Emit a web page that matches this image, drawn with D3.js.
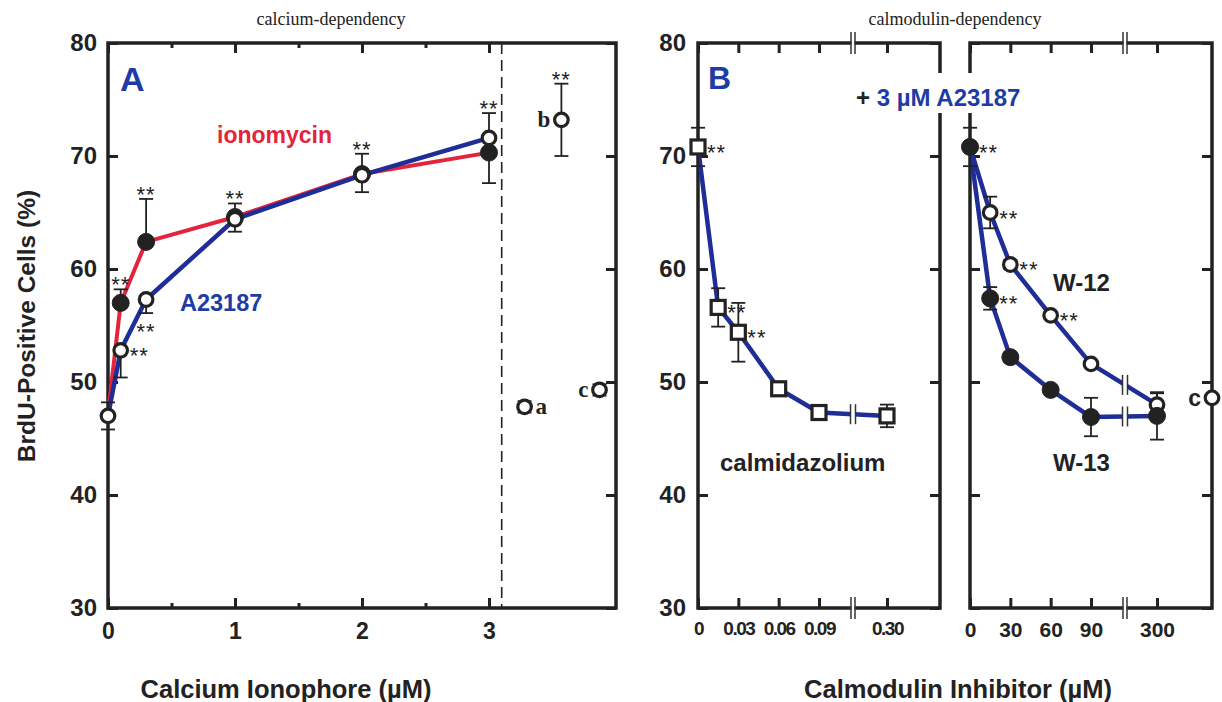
<!DOCTYPE html>
<html>
<head>
<meta charset="utf-8">
<script src="https://cdn.jsdelivr.net/npm/d3@7"></script>
<style>
  body { margin: 0; background: #fff; }
  text { font-family: "Liberation Sans", Arial, sans-serif; }
</style>
</head>
<body>
<div id="chart"></div>
<script>
// ---- Panel A: calcium ionophores ----
const ionoX = [0, 0.1, 0.3, 1, 2, 3];
const ionoY = [47.2, 57.0, 62.4, 64.6, 68.4, 70.3];
const ionoUp = [0, 1.2, 3.8, 1.2, 1.8, 0];
const ionoDown = [0, 0, 0, 0, 1.6, 2.7];
const ionoStars = ["", "up", "up", "up", "up", ""];

const a23X = [0, 0.1, 0.3, 1, 2, 3];
const a23Y = [47.0, 52.8, 57.3, 64.4, 68.3, 71.6];
const a23Up = [1.2, 0, 0, 0, 0, 2.2];
const a23Down = [1.2, 2.4, 1.2, 1.1, 0, 0];
const a23Stars = ["", "right", "down", "", "", "up"];

// control points a, b, c
const ctrlNames = ["a", "b", "c"];
const ctrlX = [3.28, 3.57, 3.87];
const ctrlY = [47.8, 73.2, 49.3];
const ctrlErr = [0.5, 3.2, 0.5];
const ctrlStars = ["", "up", ""];

const ticksA = [0, 1, 2, 3];
const minorA = [0.5, 1.5, 2.5];

// ---- Panel B: calmidazolium ----
const calmX = [0, 0.015, 0.03, 0.06, 0.09, 0.30];
const calmY = [70.8, 56.6, 54.4, 49.4, 47.3, 47.0];
const calmErr = [1.7, 1.7, 2.6, 0.3, 0.3, 1.0];
const calmStars = ["right", "right", "right", "", "", ""];
const ticksB = [0, 0.03, 0.06, 0.09, 0.30];
const tickLabelsB = ["0", "0.03", "0.06", "0.09", "0.30"];

// ---- Panel C: W-12 / W-13 ----
const wX = [0, 15, 30, 60, 90, 300];
const w12Y = [70.8, 65.0, 60.4, 55.9, 51.6, 48.0];
const w12Err = [0, 1.4, 0.4, 0.3, 0.3, 1.0];
const w12Stars = ["", "right", "right", "right", "", ""];
const w13Y = [70.8, 57.4, 52.2, 49.3, 46.9, 47.0];
const w13Err = [1.7, 1.0, 0.4, 0.3, 1.7, 2.1];
const w13Stars = ["right", "right", "", "", "", ""];
const ctrlCX = 465, ctrlCY = 48.6;
const ticksC = [0, 30, 60, 90, 300];
const tickLabelsC = ["0", "30", "60", "90", "300"];

const yTicks = [30, 40, 50, 60, 70, 80];

const blue = "#1e2d97", red = "#e3243d", textBlue = "#1d3da5";

const svg = d3.select("#chart").append("svg")
  .attr("width", 1222)
  .attr("height", 702);

const y = d3.scaleLinear().domain([30, 80]).range([608, 43]);
const xA = d3.scaleLinear().domain([0, 4]).range([108, 616]);
// broken axes: the last stretch after the break is compressed
const xB = d3.scaleLinear().domain([0, 0.09, 0.2, 0.30, 0.46]).range([698, 819, 853, 887, 940]);
const xC = d3.scaleLinear().domain([0, 90, 200, 300, 465]).range([970, 1091, 1125, 1157, 1212]);

const y0 = y.range()[0], y1 = y.range()[1];

function styleAxis(sel, size) {
  sel.select(".domain").remove();
  sel.selectAll(".tick line").attr("stroke", "#222").attr("stroke-width", 3);
  sel.selectAll(".tick text")
    .attr("fill", "#222")
    .style("font-size", size + "px")
    .style("font-weight", "bold");
}

function frame(x, opts) {
  const g = svg.append("g");
  const left = x.range()[0], right = x.range()[x.range().length - 1];

  g.append("g").attr("transform", `translate(0,${y0})`)
    .call(d3.axisBottom(x).tickValues(opts.ticks).tickSizeInner(-10).tickSizeOuter(0)
      .tickPadding(opts.xPad).tickFormat((d, i) => opts.labels[i]))
    .call(s => styleAxis(s, opts.xSize))
    .call(s => s.selectAll(".tick text").style("letter-spacing", opts.xSpacing || "0px"));
  g.append("g").attr("transform", `translate(0,${y1})`)
    .call(d3.axisTop(x).tickValues(opts.ticks).tickSizeInner(-10).tickSizeOuter(0).tickFormat(""))
    .call(s => styleAxis(s, 10));
  if (opts.minor) {
    g.append("g").attr("transform", `translate(0,${y0})`)
      .call(d3.axisBottom(x).tickValues(opts.minor).tickSizeInner(-5).tickSizeOuter(0).tickFormat(""))
      .call(s => styleAxis(s, 10));
    g.append("g").attr("transform", `translate(0,${y1})`)
      .call(d3.axisTop(x).tickValues(opts.minor).tickSizeInner(-5).tickSizeOuter(0).tickFormat(""))
      .call(s => styleAxis(s, 10));
  }
  g.append("g").attr("transform", `translate(${left},0)`)
    .call(d3.axisLeft(y).tickValues(yTicks).tickSizeInner(-10).tickSizeOuter(0)
      .tickPadding(opts.yPad).tickFormat(opts.yLabels ? d3.format("d") : ""))
    .call(s => styleAxis(s, 24));
  g.append("g").attr("transform", `translate(${right},0)`)
    .call(d3.axisRight(y).tickValues(yTicks).tickSizeInner(-10).tickSizeOuter(0).tickFormat(""))
    .call(s => styleAxis(s, 10));

  g.append("rect")
    .attr("x", left).attr("y", y1)
    .attr("width", right - left).attr("height", y0 - y1)
    .attr("fill", "none").attr("stroke", "#222").attr("stroke-width", 3.5);

  if (opts.breakAt !== undefined) {
    [y0, y1].forEach(yy => breakMark(x(opts.breakAt), yy, 22, 3));
  }
  return g;
}

function breakMark(cx, cy, h, w) {
  svg.append("rect").attr("x", cx - w / 2).attr("y", cy - h / 2 + 3)
    .attr("width", w).attr("height", h - 6).attr("fill", "#fff");
  [-w / 2 - 0.5, w / 2 + 0.5].forEach(dx => {
    svg.append("line")
      .attr("x1", cx + dx).attr("x2", cx + dx)
      .attr("y1", cy - h / 2).attr("y2", cy + h / 2)
      .attr("stroke", "#333").attr("stroke-width", 1.5);
  });
}

// break on a data line between two points, at x value bx
function lineBreak(x, xs, ys, bx) {
  const i = xs.findIndex(v => v > bx);
  const px = x(bx);
  const t = (px - x(xs[i - 1])) / (x(xs[i]) - x(xs[i - 1]));
  const py = y(ys[i - 1]) + t * (y(ys[i]) - y(ys[i - 1]));
  breakMark(px, py, 20, 4);
}

function series(x, xs, ys, color, lw) {
  svg.append("path")
    .datum(d3.zip(xs, ys))
    .attr("d", d3.line().x(d => x(d[0])).y(d => y(d[1])))
    .attr("fill", "none").attr("stroke", color)
    .attr("stroke-width", lw).attr("stroke-linejoin", "round");
}

function errorBars(x, xs, ys, up, down) {
  const g = svg.append("g").attr("stroke", "#222").attr("stroke-width", 1.8);
  xs.forEach((xv, i) => {
    const cx = x(xv);
    const hi = ys[i] + up[i], lo = ys[i] - down[i];
    if (up[i] === 0 && down[i] === 0) return;
    g.append("line").attr("x1", cx).attr("x2", cx).attr("y1", y(hi)).attr("y2", y(lo));
    if (up[i] > 0) g.append("line").attr("x1", cx - 7).attr("x2", cx + 7).attr("y1", y(hi)).attr("y2", y(hi));
    if (down[i] > 0) g.append("line").attr("x1", cx - 7).attr("x2", cx + 7).attr("y1", y(lo)).attr("y2", y(lo));
  });
}

function markers(x, xs, ys, shape, filled) {
  const data = d3.zip(xs, ys);
  if (shape === "square") {
    svg.append("g").selectAll("rect").data(data).join("rect")
      .attr("x", d => x(d[0]) - 7).attr("y", d => y(d[1]) - 7)
      .attr("width", 14).attr("height", 14)
      .attr("fill", "#fff").attr("stroke", "#222").attr("stroke-width", 3.2);
  } else {
    svg.append("g").selectAll("circle").data(data).join("circle")
      .attr("cx", d => x(d[0])).attr("cy", d => y(d[1]))
      .attr("r", filled ? 8.5 : 6.8)
      .attr("fill", filled ? "#222" : "#fff")
      .attr("stroke", "#222").attr("stroke-width", filled ? 1 : 3.2);
  }
}

function stars(x, xs, ys, up, down, pos) {
  xs.forEach((xv, i) => {
    const p = pos[i];
    if (!p) return;
    let sx = x(xv), sy = y(ys[i]), anchor = "middle";
    if (p === "up") sy = y(ys[i] + up[i]) - 10;
    if (p === "down") sy = y(ys[i] - down[i]) + 13;
    if (p === "right") { sx += 9; anchor = "start"; }
    svg.append("text")
      .attr("x", sx).attr("y", sy + 13)
      .attr("text-anchor", anchor)
      .style("font-size", "22px").style("letter-spacing", "1px")
      .attr("fill", "#222")
      .text("**");
  });
}

// ---------- Panel A ----------
frame(xA, { ticks: ticksA, labels: ticksA.map(String), minor: minorA, xPad: 15, xSize: 23, yPad: 11, yLabels: true });

svg.append("line")
  .attr("x1", xA(3.1)).attr("x2", xA(3.1)).attr("y1", y1).attr("y2", y0)
  .attr("stroke", "#222").attr("stroke-width", 1.6).attr("stroke-dasharray", "11,6");

series(xA, ionoX, ionoY, red, 4);
series(xA, a23X, a23Y, blue, 4.5);
errorBars(xA, ionoX, ionoY, ionoUp, ionoDown);
errorBars(xA, a23X, a23Y, a23Up, a23Down);
errorBars(xA, ctrlX, ctrlY, ctrlErr, ctrlErr);
markers(xA, ionoX.slice(1), ionoY.slice(1), "circle", true);
markers(xA, a23X, a23Y, "circle", false);
markers(xA, ctrlX, ctrlY, "circle", false);
stars(xA, ionoX, ionoY, ionoUp, ionoDown, ionoStars);
stars(xA, a23X, a23Y, a23Up, a23Down, a23Stars);
stars(xA, ctrlX, ctrlY, ctrlErr, ctrlErr, ctrlStars);

ctrlNames.forEach((n, i) => {
  const right = n === "a";
  svg.append("text")
    .attr("x", xA(ctrlX[i]) + (right ? 11 : -11))
    .attr("y", y(ctrlY[i]) + 7)
    .attr("text-anchor", right ? "start" : "end")
    .style("font-family", "'Liberation Serif', 'Times New Roman', serif")
    .style("font-weight", "bold").style("font-size", "23px")
    .attr("fill", "#222")
    .text(n);
});

svg.append("text").attr("x", 120).attr("y", 91)
  .style("font-size", "34px").style("font-weight", "bold").attr("fill", textBlue).text("A");
svg.append("text").attr("x", 217).attr("y", 143)
  .style("font-size", "23px").style("font-weight", "bold").attr("fill", red).text("ionomycin");
svg.append("text").attr("x", 180).attr("y", 311)
  .style("font-size", "23.5px").style("font-weight", "bold").attr("fill", textBlue).text("A23187");

// ---------- Panel B ----------
frame(xB, { ticks: ticksB, labels: tickLabelsB, xPad: 14, xSize: 19, xSpacing: "-1.5px", yPad: 12, yLabels: true, breakAt: 0.2 });
series(xB, calmX, calmY, blue, 4.5);
lineBreak(xB, calmX, calmY, 0.2);
errorBars(xB, calmX, calmY, calmErr, calmErr);
markers(xB, calmX, calmY, "square", false);
stars(xB, calmX, calmY, calmErr, calmErr, calmStars);

svg.append("text").attr("x", 708).attr("y", 89)
  .style("font-size", "32px").style("font-weight", "bold").attr("fill", textBlue).text("B");
svg.append("text").attr("x", 720).attr("y", 471)
  .style("font-size", "24px").style("font-weight", "bold").attr("fill", "#222").text("calmidazolium");

// ---------- Panel C ----------
frame(xC, { ticks: ticksC, labels: tickLabelsC, xPad: 14, xSize: 21, yPad: 12, yLabels: false, breakAt: 200 });
series(xC, wX, w12Y, blue, 4.5);
series(xC, wX, w13Y, blue, 4.5);
lineBreak(xC, wX, w12Y, 200);
lineBreak(xC, wX, w13Y, 200);
errorBars(xC, wX, w12Y, w12Err, w12Err);
errorBars(xC, wX, w13Y, w13Err, w13Err);
markers(xC, wX, w12Y, "circle", false);
markers(xC, wX, w13Y, "circle", true);
markers(xC, [ctrlCX], [ctrlCY], "circle", false);
stars(xC, wX, w12Y, w12Err, w12Err, w12Stars);
stars(xC, wX, w13Y, w13Err, w13Err, w13Stars);

svg.append("text").attr("x", xC(ctrlCX) - 11).attr("y", y(ctrlCY) + 8)
  .attr("text-anchor", "end")
  .style("font-size", "23px").style("font-weight", "bold").attr("fill", "#222").text("c");
svg.append("text").attr("x", 1053).attr("y", 291)
  .style("font-size", "24px").style("font-weight", "bold").attr("fill", "#222").text("W-12");
svg.append("text").attr("x", 1053).attr("y", 471)
  .style("font-size", "24px").style("font-weight", "bold").attr("fill", "#222").text("W-13");

// "+ 3 µM A23187" label sits over the gap between B and C
svg.append("rect").attr("x", 850).attr("y", 73).attr("width", 178).attr("height", 40).attr("fill", "#fff");
const plus = svg.append("text").attr("x", 856).attr("y", 106)
  .style("font-size", "24px").style("font-weight", "bold");
plus.append("tspan").attr("fill", "#222").text("+ ");
plus.append("tspan").attr("fill", textBlue).text("3 \u00b5M A23187");

// ---------- titles ----------
svg.append("text").attr("x", 331).attr("y", 25).attr("text-anchor", "middle")
  .style("font-family", "'Liberation Serif', 'Times New Roman', serif").style("font-size", "18px")
  .attr("fill", "#222").text("calcium-dependency");
svg.append("text").attr("x", 955).attr("y", 25).attr("text-anchor", "middle")
  .style("font-family", "'Liberation Serif', 'Times New Roman', serif").style("font-size", "18px")
  .attr("fill", "#222").text("calmodulin-dependency");

svg.append("text").attr("x", 286).attr("y", 698).attr("text-anchor", "middle")
  .style("font-size", "25.5px").style("font-weight", "bold").attr("fill", "#222")
  .text("Calcium Ionophore (\u00b5M)");
svg.append("text").attr("x", 958).attr("y", 698).attr("text-anchor", "middle")
  .style("font-size", "25.5px").style("font-weight", "bold").attr("fill", "#222")
  .text("Calmodulin Inhibitor (\u00b5M)");
svg.append("text")
  .attr("transform", "translate(35,326) rotate(-90)")
  .attr("text-anchor", "middle")
  .style("font-size", "24.5px").style("font-weight", "bold").attr("fill", "#222")
  .text("BrdU-Positive Cells (%)");
</script>
</body>
</html>
